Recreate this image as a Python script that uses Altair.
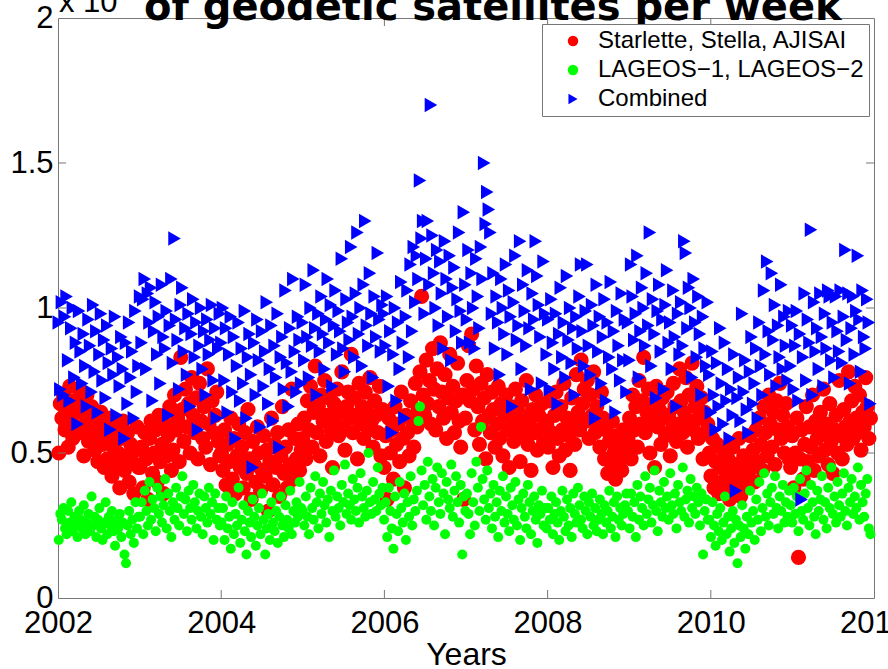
import altair as alt
import pandas as pd

# Weekly number of normal points per satellite group, in hundreds of
# observations (the y axis is drawn in units of 10^4).
SERIES = ["Starlette, Stella, AJISAI", "LAGEOS\u22121, LAGEOS\u22122", "Combined"]
COLORS = ["#ff0000", "#00ff00", "#0000ff"]
SHAPES = ["circle", "circle", "triangle-right"]
SIZES = [230, 100, 210]

START_YEAR = 2002
X_TICKS = [2002, 2004, 2006, 2008, 2010, 2012]
Y_TICKS = [0, 0.5, 1, 1.5, 2]
INNER_X_TICKS = [2004, 2006, 2008, 2010]
INNER_Y_TICKS = [0.5, 1.0, 1.5]

TITLE = "of geodetic satellites per week"

starlette_stella_ajisai = [
    # 2002
    50, 67, 62, 70, 58, 66, 52, 73, 61, 55, 68, 64, 59, 72, 57, 65, 49, 63, 70, 54,
    60, 66, 58, 51, 62, 47, 56, 64, 53, 45, 60, 48, 55, 62, 42, 52, 58, 46, 50, 38,
    55, 61, 44, 49, 57, 40, 53, 47, 36, 51, 59, 45,
    # 2003
    45, 52, 38, 57, 48, 34, 55, 61, 43, 50, 58, 40, 63, 47, 53, 36, 60, 49, 56, 66,
    44, 51, 70, 58, 62, 47, 83, 65, 54, 72, 59, 67, 50, 76, 63, 57, 69, 48, 74, 61,
    55, 66, 52, 79, 60, 46, 68, 57, 63, 71, 54, 49,
    # 2004
    50, 44, 58, 39, 53, 47, 62, 41, 55, 36, 49, 60, 45, 52, 38, 57, 43, 65, 48, 34,
    54, 46, 40, 59, 50, 37, 44, 56, 42, 51, 30, 47, 62, 39, 53, 45, 57, 35, 49, 66,
    43, 52, 38, 58, 46, 72, 41, 55, 48, 60, 44, 51,
    # 2005
    55, 62, 48, 68, 58, 73, 52, 64, 80, 57, 66, 49, 70, 61, 75, 54, 63, 69, 58, 45,
    67, 60, 72, 56, 64, 78, 59, 51, 66, 71, 62, 84, 57, 69, 63, 48, 74, 60, 66, 55,
    71, 64, 58, 76, 61, 52, 68, 63, 57, 73, 49, 65,
    # 2006
    45, 56, 34, 62, 50, 58, 41, 66, 53, 60, 47, 71, 55, 38, 63, 57, 49, 68, 61, 52,
    74, 59, 65, 78, 104, 70, 63, 82, 67, 75, 60, 86, 72, 58, 79, 66, 88, 71, 62, 77,
    55, 69, 84, 64, 73, 57, 68, 81, 61, 52, 70, 34,
    # 2007
    62, 75, 87, 68, 91, 72, 58, 80, 66, 53, 74, 61, 69, 48, 77, 63, 57, 71, 65, 52,
    60, 73, 55, 67, 49, 63, 70, 58, 45, 66, 61, 54, 72, 59, 64, 47, 68, 56, 62, 75,
    53, 60, 44, 65, 57, 70, 51, 63, 58, 67, 54, 61,
    # 2008
    60, 52, 68, 57, 45, 63, 71, 55, 49, 66, 58, 74, 51, 62, 56, 44, 69, 60, 53, 77,
    64, 58, 82, 67, 72, 61, 75, 55, 70, 63, 78, 57, 66, 59, 52, 71, 62, 48, 58, 43,
    54, 47, 61, 50, 41, 56, 46, 53, 44, 58, 49, 52,
    # 2009
    55, 62, 48, 70, 58, 66, 52, 75, 60, 68, 83, 57, 64, 72, 50, 61, 67, 45, 73, 59,
    65, 53, 69, 62, 56, 71, 63, 49, 58, 74, 66, 54, 60, 79, 68, 57, 64, 76, 52, 70,
    61, 81, 58, 66, 73, 55, 62, 69, 48, 64, 57, 60,
    # 2010
    50, 42, 55, 38, 47, 53, 36, 45, 40, 51, 44, 37, 48, 34, 43, 52, 39, 46, 41, 55,
    35, 44, 49, 38, 47, 42, 56, 45, 51, 40, 58, 47, 62, 53, 44, 66, 57, 49, 70, 60,
    52, 64, 46, 68, 58, 74, 55, 63, 50, 67, 59, 48,
    # 2011
    45, 56, 38, 50, 62, 14, 48, 58, 41, 53, 66, 47, 59, 52, 70, 44, 61, 55, 49, 64,
    57, 72, 51, 60, 46, 67, 54, 43, 58, 63, 50, 75, 56, 48, 65, 59, 53, 78, 61, 68,
    55, 73, 62, 57, 70, 51, 64, 59, 76, 66, 55, 62,
]

lageos_1_2 = [
    # 2002
    20, 29, 27, 31, 24, 22, 30, 26, 33, 23, 28, 25, 21, 30, 27, 24, 32, 22, 26, 29,
    23, 35, 25, 28, 21, 27, 31, 24, 20, 26, 33, 22, 28, 25, 30, 23, 18, 27, 24, 29,
    21, 26, 15, 12, 25, 30, 22, 27, 19, 33, 24, 28,
    # 2003
    28, 33, 22, 37, 30, 25, 40, 27, 34, 31, 23, 38, 29, 35, 26, 32, 41, 24, 36, 30,
    21, 33, 27, 38, 31, 25, 35, 42, 29, 34, 23, 37, 31, 27, 39, 33, 24, 30, 36, 28,
    22, 35, 31, 26, 38, 29, 33, 20, 36, 27, 31, 25,
    # 2004
    26, 31, 20, 35, 24, 28, 17, 33, 22, 29, 25, 38, 19, 27, 32, 23, 15, 30, 26, 21,
    34, 28, 18, 25, 31, 22, 36, 27, 15, 24, 29, 20, 33, 26, 23, 30, 19, 28, 35, 25,
    21, 32, 27, 24, 37, 22, 30, 26, 33, 28, 40, 31,
    # 2005
    30, 25, 35, 28, 22, 38, 31, 27, 42, 33, 24, 36, 29, 40, 32, 26, 34, 21, 37, 30,
    44, 28, 35, 31, 25, 39, 33, 46, 29, 36, 32, 27, 41, 34, 30, 38, 26, 43, 35, 31,
    28, 37, 50, 33, 29, 40, 34, 30, 45, 36, 32, 38,
    # 2006
    27, 33, 21, 38, 30, 24, 17, 35, 29, 23, 40, 31, 26, 36, 20, 33, 28, 42, 25, 34,
    30, 37, 61, 66, 44, 32, 39, 27, 47, 35, 30, 41, 25, 38, 45, 33, 29, 43, 36, 22,
    40, 34, 31, 46, 28, 37, 42, 33, 26, 39, 15, 35,
    # 2007
    30, 36, 29, 22, 43, 33, 25, 47, 38, 30, 59, 41, 34, 27, 44, 31, 36, 24, 39, 28,
    33, 21, 37, 30, 42, 26, 35, 29, 23, 38, 32, 27, 40, 25, 34, 20, 31, 36, 28, 24,
    39, 33, 22, 30, 35, 27, 19, 32, 29, 37, 25, 31,
    # 2008
    24, 31, 27, 35, 22, 29, 33, 26, 20, 30, 37, 28, 23, 34, 25, 31, 21, 36, 29, 26,
    38, 32, 27, 24, 35, 30, 22, 33, 28, 36, 25, 31, 23, 27, 34, 29, 22, 32, 26, 30,
    37, 24, 28, 33, 21, 35, 27, 31, 25, 29, 32, 36,
    # 2009
    30, 24, 36, 28, 33, 21, 39, 27, 35, 31, 25, 42, 29, 34, 38, 26, 32, 44, 30, 23,
    37, 33, 28, 40, 31, 35, 27, 43, 32, 29, 36, 24, 39, 33, 30, 45, 28, 34, 37, 26,
    41, 31, 35, 29, 38, 33, 25, 36, 15, 30, 34, 27,
    # 2010
    27, 21, 33, 25, 18, 29, 23, 31, 20, 26, 35, 22, 28, 16, 24, 30, 19, 27, 12, 25,
    21, 32, 24, 17, 28, 22, 37, 26, 30, 20, 34, 27, 40, 23, 31, 43, 28, 36, 25, 33,
    38, 29, 42, 31, 24, 35, 30, 39, 26, 33, 28, 37,
    # 2011
    32, 26, 38, 29, 35, 23, 41, 30, 27, 36, 44, 31, 25, 39, 33, 28, 22, 37, 30, 34,
    42, 27, 33, 24, 38, 31, 45, 29, 35, 26, 40, 32, 28, 36, 43, 30, 25, 38, 33, 41,
    29, 35, 31, 45, 27, 39, 33, 28, 36, 41, 24, 22,
]

combined = [
    # 2002
    95, 72, 102, 70, 97, 104, 82, 68, 93, 100, 76, 88, 60, 99, 85, 74, 91, 80, 66, 96,
    87, 71, 101, 78, 92, 64, 84, 98, 75, 89, 69, 94, 81, 58, 86, 77, 97, 63, 83, 73,
    90, 79, 55, 88, 67, 95, 76, 85, 62, 99, 71, 80,
    # 2003
    104, 88, 103, 110, 79, 105, 95, 107, 68, 92, 102, 84, 97, 74, 108, 90, 86, 99, 63, 94,
    110, 81, 124, 96, 89, 72, 101, 107, 85, 93, 77, 98, 66, 91, 103, 83, 95, 58, 87, 100,
    79, 92, 70, 96, 84, 89, 101, 75, 93, 62, 86, 98,
    # 2004
    88, 100, 75, 93, 64, 84, 97, 71, 90, 55, 80, 95, 68, 86, 74, 99, 62, 83, 91, 77,
    45, 88, 70, 96, 82, 59, 92, 73, 85, 102, 67, 79, 94, 61, 87, 76, 98, 52, 83, 90,
    72, 106, 81, 66, 93, 78, 110, 85, 71, 97, 89, 74,
    # 2005
    95, 82, 108, 90, 76, 100, 87, 113, 93, 70, 98, 85, 104, 91, 79, 96, 110, 88, 101, 73,
    94, 106, 84, 99, 92, 117, 86, 78, 103, 95, 89, 121, 97, 83, 105, 126, 91, 100, 80, 108,
    130, 94, 87, 112, 98, 76, 104, 90, 119, 96, 85, 101,
    # 2006
    98, 87, 104, 73, 92, 57, 84, 100, 68, 95, 79, 109, 88, 62, 97, 106, 83, 115, 92, 121,
    102, 118, 110, 144, 124, 130, 98, 117, 130, 108, 170, 125, 112, 100, 120, 94, 116, 105, 86, 123,
    110, 97, 118, 82, 107, 114, 92, 103, 126, 99, 88, 133,
    # 2007
    108, 96, 120, 88, 112, 100, 86, 117, 104, 93, 121, 110, 150, 129, 140, 134, 126, 98, 112, 86,
    104, 95, 77, 110, 100, 91, 115, 84, 106, 97, 66, 102, 118, 89, 94, 123, 79, 108, 99, 87,
    113, 93, 72, 105, 96, 123, 111, 101, 90, 74, 116, 98,
    # 2008
    84, 96, 72, 103, 88, 79, 98, 67, 91, 107, 83, 95, 76, 111, 89, 100, 81, 93, 70, 97,
    86, 104, 115, 92, 80, 99, 115, 87, 77, 101, 94, 62, 108, 85, 97, 74, 90, 103, 68, 95,
    83, 109, 79, 92, 64, 99, 87, 75, 105, 82, 96, 71,
    # 2009
    95, 82, 115, 104, 89, 98, 118, 76, 92, 107, 100, 87, 112, 94, 126, 80, 103, 91, 69, 99,
    108, 85, 96, 72, 101, 113, 88, 95, 79, 106, 90, 66, 98, 84, 102, 87, 123, 119, 93, 107,
    100, 76, 110, 95, 83, 104, 91, 70, 97, 86, 80, 102,
    # 2010
    77, 64, 85, 70, 58, 81, 66, 93, 74, 60, 88, 68, 79, 55, 72, 63, 84, 37, 69, 76,
    61, 98, 71, 82, 65, 57, 78, 90, 67, 74, 86, 62, 95, 80, 70, 106, 84, 116, 92, 77,
    112, 89, 101, 73, 94, 83, 108, 79, 97, 87, 75, 99,
    # 2011
    80, 94, 72, 87, 99, 68, 91, 34, 83, 105, 75, 96, 88, 127, 70, 102, 85, 93, 79, 105,
    90, 73, 98, 86, 106, 104, 82, 95, 76, 104, 92, 85, 106, 81, 97, 120, 89, 105, 74, 93,
    104, 84, 99, 118, 96, 78, 106, 90, 86, 103, 95, 67,
]

# Long table: one row per week and group.
rows = []
for name, values in zip(SERIES, [starlette_stella_ajisai, lageos_1_2, combined]):
    for week, v in enumerate(values):
        rows.append({
            "year": START_YEAR + (week * 7 + 3.5) / 365.25,
            "obs": v / 100.0,
            "series": name,
        })
df = pd.DataFrame(rows)

W, H = 816, 580
AXIS_GRAY = "#777777"
FONT = "Liberation Sans"

x_scale = alt.Scale(domain=[2002, 2012], nice=False, zero=False)
y_scale = alt.Scale(domain=[0, 2], nice=False, zero=False)
color_scale = alt.Scale(domain=SERIES, range=COLORS)
shape_scale = alt.Scale(domain=SERIES, range=SHAPES)

x_axis = alt.Axis(
    values=X_TICKS, format="d", title="Years",
    labelFont=FONT, labelFontSize=31, labelColor="black", labelPadding=10,
    labelFlush=False, labelOverlap=False, ticks=False, domain=False, grid=False,
    titleFont=FONT, titleFontSize=32, titleFontWeight="normal", titleColor="black",
    titleBaseline="alphabetic", titleY=66,
)
y_axis = alt.Axis(
    values=Y_TICKS, format="~g", title=None,
    labelFont=FONT, labelFontSize=31, labelColor="black", labelPadding=5,
    labelFlush=False, labelOverlap=False, ticks=False, domain=False, grid=False,
)

legend = alt.Legend(
    orient="none", legendX=484, legendY=6, title=None,
    labelFont=FONT, labelFontSize=24, labelColor="black", labelLimit=400,
    symbolSize=110, symbolOffset=14, labelOffset=13, padding=5, rowPadding=5,
    strokeColor=AXIS_GRAY, fillColor="white", symbolStrokeWidth=0,
)

# One layer per group, red first and the combined triangles on top
point_layers = []
for name, size in zip(SERIES, SIZES):
    point_layers.append(
        alt.Chart(df[df["series"] == name]).mark_point(
            filled=True, opacity=1, strokeWidth=0, size=size,
        ).encode(
            x=alt.X("year:Q", scale=x_scale, axis=x_axis),
            y=alt.Y("obs:Q", scale=y_scale, axis=y_axis),
            color=alt.Color("series:N", scale=color_scale, legend=legend),
            shape=alt.Shape("series:N", scale=shape_scale, legend=legend),
        )
    )

# Inward-pointing tick marks on all four sides of the box
xt = pd.DataFrame({"year": INNER_X_TICKS})
yt = pd.DataFrame({"obs": INNER_Y_TICKS})
rule = dict(color=AXIS_GRAY, strokeWidth=1)
tick_bottom = alt.Chart(xt).mark_rule(**rule).encode(
    x=alt.X("year:Q", scale=x_scale, axis=x_axis), y=alt.value(H), y2=alt.value(H - 8))
tick_top = alt.Chart(xt).mark_rule(**rule).encode(
    x=alt.X("year:Q", scale=x_scale, axis=x_axis), y=alt.value(0), y2=alt.value(8))
tick_left = alt.Chart(yt).mark_rule(**rule).encode(
    y=alt.Y("obs:Q", scale=y_scale, axis=y_axis), x=alt.value(0), x2=alt.value(8))
tick_right = alt.Chart(yt).mark_rule(**rule).encode(
    y=alt.Y("obs:Q", scale=y_scale, axis=y_axis), x=alt.value(W), x2=alt.value(W - 8))

# Slide title and the axis exponent, both running off the top edge
title = alt.Chart(pd.DataFrame({"t": [TITLE]})).mark_text(
    font="DejaVu Sans", fontWeight="bold", fontSize=40, color="black",
    align="left", baseline="alphabetic",
).encode(text="t:N", x=alt.value(86), y=alt.value(2))

exponent_base = alt.Chart(pd.DataFrame({"t": ["x 10"]})).mark_text(
    font=FONT, fontSize=31, color="black", align="left", baseline="alphabetic",
).encode(text="t:N", x=alt.value(1), y=alt.value(-6))

exponent_power = alt.Chart(pd.DataFrame({"t": ["4"]})).mark_text(
    font=FONT, fontSize=22, color="black", align="left", baseline="alphabetic",
).encode(text="t:N", x=alt.value(61), y=alt.value(-22))

chart = alt.layer(
    *point_layers, tick_bottom, tick_top, tick_left, tick_right,
    title, exponent_base, exponent_power,
).properties(
    width=W, height=H,
    autosize=alt.AutoSizeParams(type="none"),
    padding={"left": 58, "top": 18, "right": 14, "bottom": 71},
    background="white",
).configure_view(stroke=AXIS_GRAY, strokeWidth=1)

chart.save("out.html", embed_options={"renderer": "svg", "actions": False})
